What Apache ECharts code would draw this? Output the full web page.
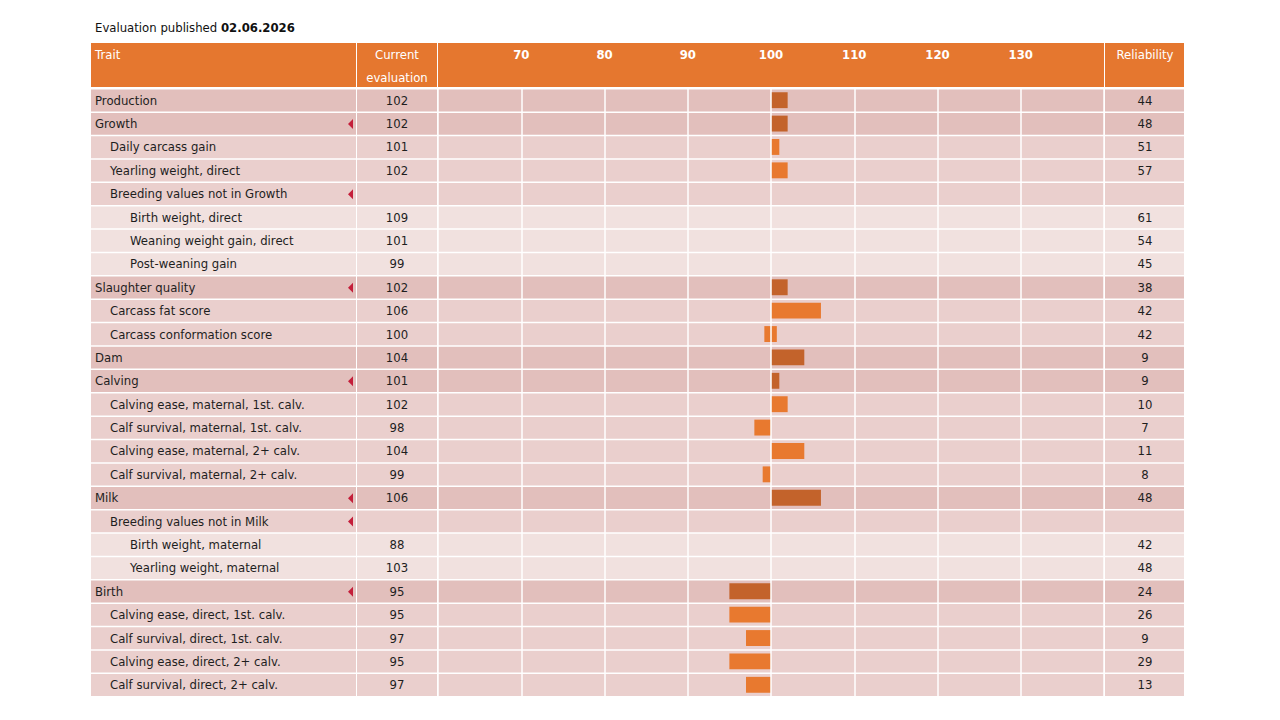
<!DOCTYPE html>
<html>
<head>
<meta charset="utf-8">
<title>Evaluation</title>
<script src="https://cdn.jsdelivr.net/npm/echarts@6/dist/echarts.min.js"></script>
<style>
  html, body { margin: 0; padding: 0; background: #fff; }
  #main { width: 1280px; height: 720px; }
</style>
</head>
<body>
<div id="main"></div>
<script>
// 表格行：性状名称、层级、当前评估、可靠性
const traits = [
  'Production', 'Growth', 'Daily carcass gain', 'Yearling weight, direct',
  'Breeding values not in Growth', 'Birth weight, direct', 'Weaning weight gain, direct', 'Post-weaning gain',
  'Slaughter quality', 'Carcass fat score', 'Carcass conformation score', 'Dam', 'Calving',
  'Calving ease, maternal, 1st. calv.', 'Calf survival, maternal, 1st. calv.',
  'Calving ease, maternal, 2+ calv.', 'Calf survival, maternal, 2+ calv.',
  'Milk', 'Breeding values not in Milk', 'Birth weight, maternal', 'Yearling weight, maternal',
  'Birth', 'Calving ease, direct, 1st. calv.', 'Calf survival, direct, 1st. calv.',
  'Calving ease, direct, 2+ calv.', 'Calf survival, direct, 2+ calv.'
];
const levels = [0,0,1,1,1,2,2,2,0,1,1,0,0,1,1,1,1,0,1,2,2,0,1,1,1,1];
const expandable = [0,1,0,0,1,0,0,0,1,0,0,0,1,0,0,0,0,1,1,0,0,1,0,0,0,0];
const evaluations = [102,102,101,102,null,109,101,99,102,106,100,104,101,102,98,104,99,106,null,88,103,95,95,97,95,97];
const reliability = [44,48,51,57,null,61,54,45,38,42,42,9,9,10,7,11,8,48,null,42,48,24,26,9,29,13];
// 柱形起止值（无柱形的行为 null）
const barFrom = [100,100,100,100,null,null,null,null,100,100,99.2,100,100,100,98,100,99,100,null,null,null,95,95,97,95,97];
const barTo   = [102,102,101,102,null,null,null,null,102,106,100.7,104,101,102,100,104,100,106,null,null,null,100,100,100,100,100];
const axisTicks = [70, 80, 90, 100, 110, 120, 130];

const FONT = '"DejaVu Sans", Verdana, sans-serif';
const FS = '11.7px ';
const rowColors = ['#e2bfbc', '#eacfcd', '#f1e1df'];
const barColors = ['#c3632b', '#e8792f'];
const indent = [0, 15, 35];

const chart = echarts.init(document.getElementById('main'), null, { renderer: 'svg' });

// 行背景 + 文本
function renderRow(params, api) {
  const i = api.value(1);
  const c = api.coord([60, i]);
  const band = api.size([0, 1])[1];
  const y0 = c[1] - band / 2 + 0.5;
  const h = band - 1.5;
  const fill = rowColors[levels[i]];
  const cells = [[91, 265], [357, 80], [438, 666], [1105, 79]];
  const children = cells.map(cl => ({
    type: 'rect', shape: { x: cl[0], y: y0, width: cl[1], height: h }, style: { fill: fill }
  }));
  const txt = (x, s, align) => ({
    type: 'text', z2: 5,
    style: { x: x, y: c[1], text: s, fill: '#1e1e1e', font: FS + FONT, textAlign: align, textVerticalAlign: 'middle' }
  });
  children.push(txt(95 + indent[levels[i]], traits[i], 'left'));
  if (evaluations[i] != null) children.push(txt(397, String(evaluations[i]), 'center'));
  if (reliability[i] != null) children.push(txt(1145, String(reliability[i]), 'center'));
  if (expandable[i]) {
    children.push({
      type: 'polygon', z2: 5,
      shape: { points: [[348, c[1]], [353, c[1] - 5], [353, c[1] + 5]] },
      style: { fill: '#c41e3a' }
    });
  }
  return { type: 'group', children: children };
}

// 柱形（起止值）
function renderBar(params, api) {
  const i = api.value(1);
  const p0 = api.coord([api.value(0), i]);
  const p1 = api.coord([api.value(2), i]);
  const band = api.size([0, 1])[1];
  const h = band * 0.68;
  return {
    type: 'rect',
    shape: { x: p0[0], y: p0[1] - h / 2 - 0.5, width: p1[0] - p0[0], height: h },
    style: { fill: barColors[levels[i] === 0 ? 0 : 1] }
  };
}

const barData = [];
traits.forEach((t, i) => { if (barFrom[i] != null) barData.push([barFrom[i], i, barTo[i]]); });

const option = {
  animation: false,
  grid: { left: 438, right: 176, top: 89, bottom: 23 },
  xAxis: {
    type: 'value', position: 'top', min: 60, max: 140, interval: 10,
    axisLine: { show: false }, axisTick: { show: false },
    axisLabel: {
      color: '#fff', fontWeight: 'bold', fontSize: 11.7, fontFamily: FONT, margin: 28,
      formatter: v => axisTicks.indexOf(v) >= 0 ? String(v) : ''
    },
    splitLine: { show: true, lineStyle: { color: '#fff', width: 1.5 } }
  },
  yAxis: {
    type: 'category', inverse: true, data: traits,
    axisLine: { show: false }, axisTick: { show: false }, axisLabel: { show: false }, splitLine: { show: false }
  },
  graphic: [
    { type: 'text', left: 95, top: 22, z: 10,
      style: { text: '{n|Evaluation published }{b|02.06.2026}', rich: {
        n: { font: FS + FONT, fill: '#111' },
        b: { font: 'bold ' + FS + FONT, fill: '#111' } } } },
    { type: 'rect', z: -5, shape: { x: 91, y: 43, width: 265, height: 44 }, style: { fill: '#e5772f' } },
    { type: 'rect', z: -5, shape: { x: 357, y: 43, width: 80, height: 44 }, style: { fill: '#e5772f' } },
    { type: 'rect', z: -5, shape: { x: 438, y: 43, width: 666, height: 44 }, style: { fill: '#e5772f' } },
    { type: 'rect', z: -5, shape: { x: 1105, y: 43, width: 79, height: 44 }, style: { fill: '#e5772f' } },
    { type: 'text', z: 10, style: { x: 95, y: 55, text: 'Trait', fill: '#fff', font: FS + FONT, textVerticalAlign: 'middle' } },
    { type: 'text', z: 10, style: { x: 397, y: 55, text: 'Current', fill: '#fff', font: FS + FONT, textAlign: 'center', textVerticalAlign: 'middle' } },
    { type: 'text', z: 10, style: { x: 397, y: 78, text: 'evaluation', fill: '#fff', font: FS + FONT, textAlign: 'center', textVerticalAlign: 'middle' } },
    { type: 'text', z: 10, style: { x: 1145, y: 55, text: 'Reliability', fill: '#fff', font: FS + FONT, textAlign: 'center', textVerticalAlign: 'middle' } }
  ],
  series: [
    { type: 'custom', name: 'rows', z: -3, silent: true, data: traits.map((t, i) => [60, i]), renderItem: renderRow },
    { type: 'custom', name: 'bars', z: -2, data: barData, renderItem: renderBar }
  ]
};
chart.setOption(option);
</script>
</body>
</html>
